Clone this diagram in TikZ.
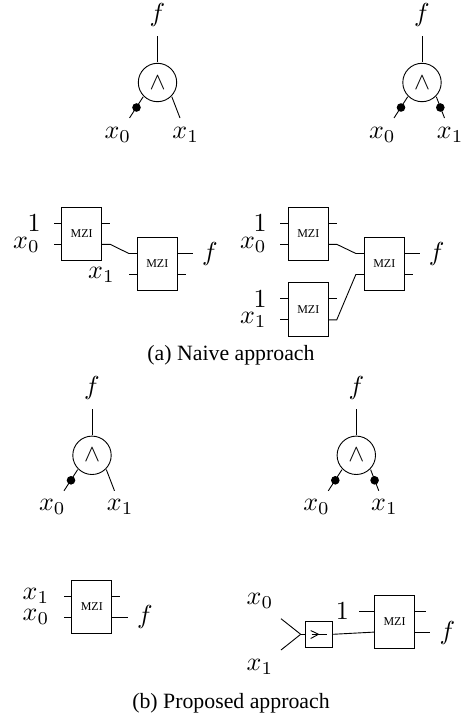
\documentclass[tikz,border=0pt]{standalone}
\usepackage{fontspec}
\setmainfont{Liberation Serif}
\usepackage{amsmath}
\usetikzlibrary{positioning,calc}
\tikzset{
  wire/.style={line width=0.9pt, black},
  varlab/.style={scale=2.6, inner sep=0pt},
  andgate/.style={draw, circle, line width=0.9pt, scale=2.4, minimum size=16pt, inner sep=0pt},
  pindot/.style={fill=black, circle, minimum size=8.6pt, inner sep=0pt},
  mzibox/.style={draw, line width=0.9pt, minimum width=40pt, minimum height=53.3pt,
                 inner sep=0pt, font=\fontsize{12}{12}\selectfont},
  mergebox/.style={draw, line width=0.9pt, minimum width=27pt, minimum height=26.6pt, inner sep=0pt},
  captlab/.style={inner sep=0pt, font=\fontsize{21.8}{22}\selectfont},
}
% four pins of one interferometer box
\newcommand{\mzipins}[1]{
  \coordinate (#1-tl) at ($(#1.west)+(0,-10.5)$);
  \coordinate (#1-bl) at ($(#1.west)+(0,10.5)$);
  \coordinate (#1-tr) at ($(#1.east)+(0,-10.5)$);
  \coordinate (#1-br) at ($(#1.east)+(0,10.5)$);
}
\begin{document}
\begin{tikzpicture}[x=1pt,y=-1pt]
  \useasboundingbox (0,0) rectangle (467,717);
  % gates
  \foreach \nm/\cx/\cy in {andA/157.5/82.5, andB/422/82.5, andC/92/455.3, andD/356.3/455.3} {
    \node[andgate] (\nm) at (\cx,\cy) {$\wedge$};
    \node[varlab] (\nm-f) at (\cx,\cy-67) {$f$};
    \node[varlab] (\nm-a) at (\cx-39.7,\cy+52) {$x_0$};
    \node[varlab] (\nm-b) at (\cx+28.2,\cy+52) {$x_1$};
    \coordinate (\nm-top) at (\cx,\cy-46);
    \coordinate (\nm-l) at (\cx-28,\cy+35.5);
    \coordinate (\nm-r) at (\cx+22.5,\cy+35.5);
    \draw[wire] (\nm.north) -- (\nm-top);
    \draw[wire] (\nm.225) -- (\nm-l);
    \draw[wire] (\nm.-45) -- (\nm-r);
    \node[pindot] (\nm-dl) at (\cx-21,\cy+25) {};
  }
  \node[pindot] (andB-dr) at (440.3,107.5) {};
  \node[pindot] (andD-dr) at (374.6,480.3) {};
  % naive approach, one input
  \node[mzibox] (mziA) at (81.7,233.8) {MZI};
  \node[mzibox] (mziB) at (157.3,264) {MZI};
  \mzipins{mziA} \mzipins{mziB}
  \node[varlab] (oneA) at (34,223) {$1$};
  \node[varlab] (xA) at (26.5,245) {$x_0$};
  \node[varlab] (xB) at (101.5,275) {$x_1$};
  \node[varlab] (fA) at (210,254) {$f$};
  \draw[wire] (mziA-tl) -- ++(-7.7,0);
  \draw[wire] (mziA-bl) -- ++(-7.7,0);
  \draw[wire] (mziA-tr) -- ++(8,0);
  \draw[wire] (mziB-bl) -- ++(-8,0);
  \draw[wire] (mziB-tr) -- ++(15.4,0);
  \draw[wire] (mziB-br) -- ++(8,0);
  \draw[wire] (mziA-br) -- ++(8,0) -- ($(mziB-tl)+(-8,0)$) -- (mziB-tl);
  % naive approach, two inputs
  \node[mzibox] (mziC) at (308.3,233.8) {MZI};
  \node[mzibox] (mziD) at (384.3,264) {MZI};
  \node[mzibox] (mziE) at (308.3,309.3) {MZI};
  \mzipins{mziC} \mzipins{mziD} \mzipins{mziE}
  \node[varlab] (oneC) at (260,223) {$1$};
  \node[varlab] (xC) at (253.3,245) {$x_0$};
  \node[varlab] (oneE) at (260,298.7) {$1$};
  \node[varlab] (xE) at (253.3,320) {$x_1$};
  \node[varlab] (fD) at (436.7,254) {$f$};
  \foreach \pin in {mziC-tl, mziC-bl, mziE-tl, mziE-bl}
    \draw[wire] (\pin) -- ++(-7.5,0);
  \foreach \pin in {mziC-tr, mziE-tr, mziD-br}
    \draw[wire] (\pin) -- ++(8,0);
  \draw[wire] (mziD-tr) -- ++(15.4,0);
  \draw[wire] (mziC-br) -- ++(8,0) -- ($(mziD-tl)+(-8,0)$) -- (mziD-tl);
  \draw[wire] (mziE-br) -- ++(8,0) -- ($(mziD-bl)+(-8,0)$) -- (mziD-bl);
  \node[captlab] (captA) at (231,355.7) {(a) Naive approach};
  % proposed approach
  \node[mzibox] (mziF) at (91.8,606.6) {MZI};
  \mzipins{mziF}
  \node[varlab] (xF) at (36,596) {$x_1$};
  \node[varlab] (xG) at (36,617) {$x_0$};
  \node[varlab] (fF) at (145,617.3) {$f$};
  \draw[wire] (mziF-tl) -- ++(-7.7,0);
  \draw[wire] (mziF-bl) -- ++(-7.7,0);
  \draw[wire] (mziF-tr) -- ++(8,0);
  \draw[wire] (mziF-br) -- ++(15.6,0);
  \node[mzibox] (mziG) at (394.5,621.6) {MZI};
  \mzipins{mziG}
  \node[mergebox] (merge) at (318.8,634.3) {};
  \coordinate (mergeIn) at (300.7,634.3);
  \coordinate (xHend) at (281,618.7);
  \coordinate (xIend) at (281,650);
  % arrow inside the small box
  \coordinate (mergeA) at (310.7,630.5);
  \coordinate (mergeB) at (310.7,638.5);
  \coordinate (mergeC) at (318.5,634.3);
  \coordinate (mergeD) at (326.7,634.3);
  \coordinate (mergeE) at (311.7,634.3);
  \node[varlab] (xH) at (260,601) {$x_0$};
  \node[varlab] (xI) at (260,666.7) {$x_1$};
  \node[varlab] (oneG) at (342.3,611) {$1$};
  \node[varlab] (fG) at (447.3,633) {$f$};
  \draw[wire] (xHend) -- (mergeIn);
  \draw[wire] (xIend) -- (mergeIn);
  \draw[wire] (mergeIn) -- (merge.west);
  \draw[wire] (mergeA) -- (mergeC) -- (mergeB);
  \draw[wire] (mergeE) -- (mergeD);
  \draw[wire] (merge.east) -- (mziG-bl);
  \draw[wire] (mziG-tl) -- ++(-15.3,0);
  \draw[wire] (mziG-tr) -- ++(11.3,0);
  \draw[wire] (mziG-br) -- ++(15.3,0);
  \node[captlab] (captB) at (231,703) {(b) Proposed approach};
\end{tikzpicture}
\end{document}
